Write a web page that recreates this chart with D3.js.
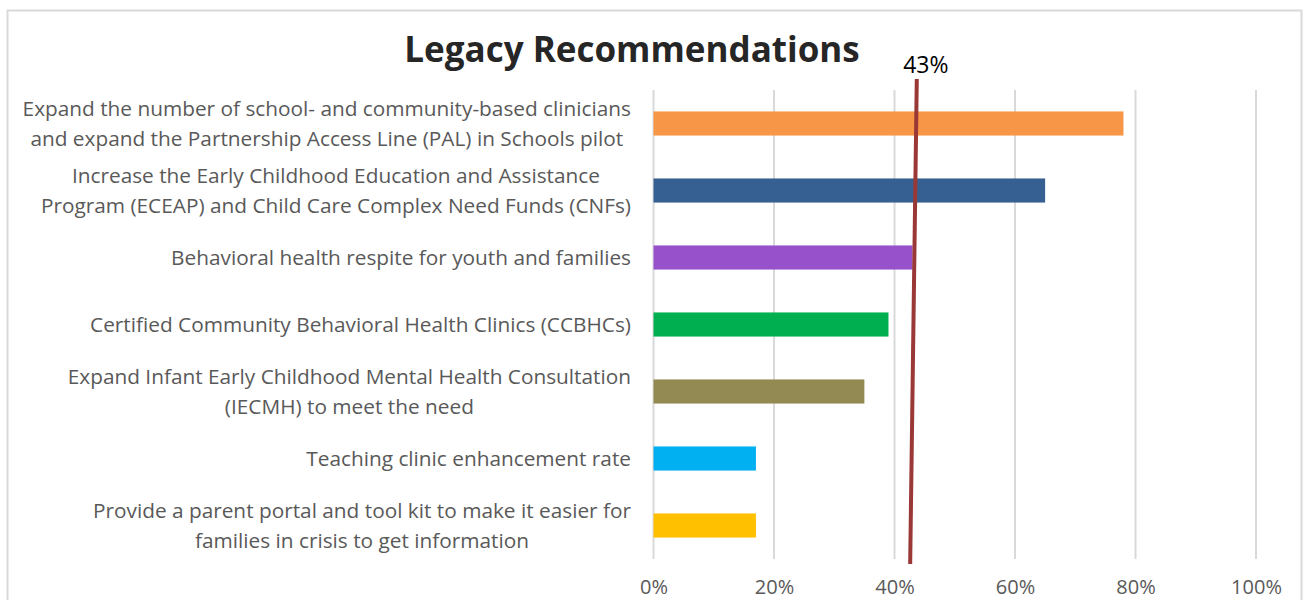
<!DOCTYPE html>
<html>
<head>
<meta charset="utf-8">
<script src="https://cdn.jsdelivr.net/npm/d3@7"></script>
<style>
  body { margin: 0; background: #fff; }
  svg text { font-family: "Open Sans", "Noto Sans", sans-serif; }
</style>
</head>
<body>
<div id="chart"></div>
<script>
// categories, top to bottom (each entry = lines of the label)
const categories = [
    ["Expand the number of school- and community-based clinicians", "and expand the Partnership Access Line (PAL) in Schools pilot"],
    ["Increase the Early Childhood Education and Assistance", "Program (ECEAP) and Child Care Complex Need Funds (CNFs)"],
    ["Behavioral health respite for youth and families"],
    ["Certified Community Behavioral Health Clinics (CCBHCs)"],
    ["Expand Infant Early Childhood Mental Health Consultation", "(IECMH) to meet the need"],
    ["Teaching clinic enhancement rate"],
    ["Provide a parent portal and tool kit to make it easier for", "families in crisis to get information"]
];
const values = [0.78, 0.65, 0.43, 0.39, 0.35, 0.17, 0.17];
const barColors = ["#F79646", "#366092", "#9751CB", "#00B050", "#938953", "#00B0F0", "#FFC000"];
const tickValues = [0, 0.2, 0.4, 0.6, 0.8, 1.0];

// hand-drawn 43% marker (slightly tilted in the original)
const refLabel = "43%";
const refTop = 0.437;
const refBottom = 0.426;

const width = 1304, height = 600;
const margin = {top: 90, right: 48, bottom: 41, left: 653.5};
const labelRight = 631;

const svg = d3.select("#chart").append("svg")
    .attr("width", width)
    .attr("height", height);

// chart border
svg.append("rect")
    .attr("x", 7.5).attr("y", 10.5)
    .attr("width", 1294).attr("height", 600)
    .attr("fill", "none")
    .attr("stroke", "#D9D9D9")
    .attr("stroke-width", 2);

const x = d3.scaleLinear()
    .domain([0, 1])
    .range([margin.left, width - margin.right]);

const y = d3.scaleBand()
    .domain(d3.range(categories.length))
    .range([margin.top, height - margin.bottom])
    .paddingInner(0.64)
    .paddingOuter(0.32);

// gridlines
svg.append("g")
    .selectAll("line")
    .data(tickValues)
    .join("line")
    .attr("x1", d => x(d)).attr("x2", d => x(d))
    .attr("y1", margin.top).attr("y2", height - margin.bottom)
    .attr("stroke", "#D9D9D9")
    .attr("stroke-width", 2);

// x axis labels
const xAxis = d3.axisBottom(x)
    .tickValues(tickValues)
    .tickFormat(d3.format(".0%"))
    .tickSize(0)
    .tickPadding(21);

const xAxisGroup = svg.append("g")
    .attr("transform", `translate(0,${height - margin.bottom})`)
    .call(xAxis);
xAxisGroup.select(".domain").remove();
xAxisGroup.selectAll("text")
    .attr("fill", "#595959")
    .style("font-size", "20px");

// bars
svg.append("g")
    .selectAll("rect")
    .data(values)
    .join("rect")
    .attr("x", x(0))
    .attr("y", (d, i) => y(i))
    .attr("width", d => x(d) - x(0))
    .attr("height", y.bandwidth())
    .attr("fill", (d, i) => barColors[i]);

// category labels: lines centred in a block that is right-aligned
const lineHeight = 30;
const labels = svg.append("g")
    .selectAll("text")
    .data(categories)
    .join("text")
    .attr("text-anchor", "middle")
    .attr("fill", "#595959")
    .style("font-size", "20.8px");

labels.selectAll("tspan")
    .data(d => d.map((line, j) => ({line, j, n: d.length})))
    .join("tspan")
    .attr("x", 0)
    .attr("y", d => (d.j - (d.n - 1) / 2) * lineHeight)
    .attr("dy", "0.35em")
    .text(d => d.line);

labels.each(function(d, i) {
    const w = d3.max(d3.select(this).selectAll("tspan").nodes(), n => n.getComputedTextLength());
    d3.select(this).attr("transform", `translate(${labelRight - w / 2},${y(i) + y.bandwidth() / 2})`);
});

// title
svg.append("text")
    .attr("x", 632)
    .attr("y", 62)
    .attr("text-anchor", "middle")
    .attr("fill", "#262626")
    .style("font-size", "35px")
    .style("font-weight", "bold")
    .text("Legacy Recommendations");

// reference line
svg.append("line")
    .attr("x1", x(refTop)).attr("y1", margin.top - 11)
    .attr("x2", x(refBottom)).attr("y2", height - margin.bottom + 5)
    .attr("stroke", "#993836")
    .attr("stroke-width", 4);

svg.append("text")
    .attr("x", x(refTop) + 9)
    .attr("y", 73)
    .attr("text-anchor", "middle")
    .attr("fill", "#000")
    .style("font-size", "23px")
    .text(refLabel);
</script>
</body>
</html>
